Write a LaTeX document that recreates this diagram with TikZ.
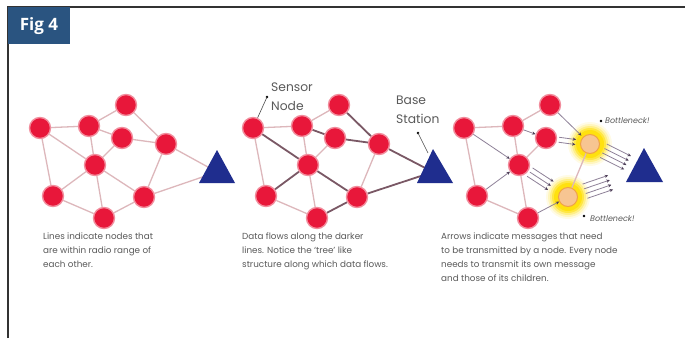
\documentclass[tikz,border=0pt]{standalone}
\usepackage{fontspec}
\setmainfont{Poppins}
\newfontfamily\headfont{Open Sans}
\usetikzlibrary{calc,arrows.meta,backgrounds}

\definecolor{nodered}{HTML}{E8173A}
\definecolor{nodering}{HTML}{F28C9C}
\definecolor{liteedge}{HTML}{DDB7BB}
\definecolor{darkedge}{HTML}{7A5865}
\definecolor{msgline}{HTML}{8E8198}
\definecolor{msghead}{HTML}{4E3F58}
\definecolor{basecol}{HTML}{1F2D8E}
\definecolor{capgray}{HTML}{5A5A5A}
\definecolor{headblue}{HTML}{2A5480}
\definecolor{framegray}{HTML}{333333}
\definecolor{glow}{HTML}{FFE10A}
\definecolor{hotcore}{HTML}{F7C592}
\definecolor{hotring}{HTML}{F0A246}

\tikzset{
  sn/.style={circle, fill=nodered, draw=nodering, line width=1.4pt, minimum size=21pt, inner sep=0pt},
  hot/.style={circle, fill=hotcore, draw=hotring, line width=1pt, minimum size=19pt, inner sep=0pt},
  lite/.style={draw=liteedge, line width=1.3pt},
  treeedge/.style={draw=darkedge, line width=1.8pt},
  msg/.style={draw=msgline, line width=0.8pt, -{Stealth[length=3.4pt,width=3.2pt,color=msghead]}},
  caption/.style={anchor=north west, align=left, text=capgray, inner sep=0pt,
    font=\fontsize{8.8}{14}\selectfont},
  callout/.style={anchor=north west, align=left, text=capgray, inner sep=0pt,
    font=\fontsize{12.3}{18.5}\selectfont},
  bneck/.style={anchor=west, text=capgray, inner sep=0pt, font=\fontsize{8}{9}\selectfont\itshape},
  pointer/.style={draw=black!70, line width=0.6pt},
}

% the nine sensor nodes of one network; #1 = name prefix, #2 = style of the two nodes next to the base
\newcommand\netnodes[2]{%
  \node[sn] (#1A) at (40,128) {};
  \node[sn] (#1B) at (89,126) {};
  \node[sn] (#1C) at (126,105) {};
  \node[sn] (#1D) at (122,138) {};
  \node[#2] (#1E) at (166,144) {};
  \node[sn] (#1F) at (95,165) {};
  \node[sn] (#1G) at (53,196) {};
  \node[#2] (#1H) at (144,197) {};
  \node[sn] (#1I) at (104,218) {};
}
% a bundle of parallel message arrows from #1 towards #2
\newcommand\msgs[5]{%
  \foreach \o in {#3}
    \draw[msg] ($(#1)!#4!(#2)!\o!90:(#2)$) -- ($(#1)!#5!(#2)!\o!90:(#2)$);
}

\begin{document}
\begin{tikzpicture}[x=1pt,y=-1pt]
\useasboundingbox (0,0) rectangle (685,338);
\begin{pgfonlayer}{background}
  \fill[white] (0,0) rectangle (685,338);
\end{pgfonlayer}

% frame and heading tab
\draw[framegray, line width=1.3pt] (8,338) -- (8,7) -- (685,7);
\fill[headblue] (8,7) rectangle (70,44);
\node[text=white, font=\headfont\fontsize{17}{17}\selectfont\bfseries, inner sep=0pt] (figtag) at (39,26) {Fig 4};

% ---- network with all radio links
\begin{scope}
  \netnodes{a}{sn}
  \coordinate (aT) at (217,172);
  \begin{pgfonlayer}{background}
    \foreach \u/\v in {A/B,A/F,A/G,B/C,B/D,B/F,C/E,D/E,D/F,E/H,F/G,F/H,F/I,G/I,H/I,E/T,H/T}
      \draw[lite] (a\u) -- (a\v);
  \end{pgfonlayer}
  \fill[basecol] (217,150) -- (235,183) -- (199,183) -- cycle;
\end{scope}

% ---- routing tree on darker links
\begin{scope}[xshift=213pt]
  \netnodes{b}{sn}
  \coordinate (bT) at (220,172);
  \begin{pgfonlayer}{background}
    \foreach \u/\v in {A/B,A/G,B/C,B/F,D/F,E/H,F/I,G/I}
      \draw[lite] (b\u) -- (b\v);
    \foreach \u/\v in {A/F,G/F,F/H,I/H,H/T,E/T,C/E,D/E,B/D}
      \draw[treeedge] (b\u) -- (b\v);
  \end{pgfonlayer}
  \fill[basecol] (220,149) -- (240,183) -- (204,183) -- cycle;
  \coordinate (bTedge) at (215,153);
  \coordinate (sdot) at (54,97);
  \coordinate (bdot) at (205,133);
  \fill[black] (sdot) circle (1.4pt);
  \fill[black] (bdot) circle (1.4pt);
  \draw[pointer] (sdot) -- (bA);
  \draw[pointer] (bdot) -- (bTedge);
\end{scope}
\node[callout] (sensorlbl) at (271,83) {Sensor\\Node};
\node[callout] (baselbl) at (396,96) {Base\\Station};

% ---- message load with the two bottlenecks
\begin{scope}[xshift=424pt]
  \netnodes{c}{hot}
  \coordinate (cT) at (220,171);
  \begin{pgfonlayer}{background}
    \foreach \n in {cE,cH}
      \foreach \r/\op in {22/0.10,20/0.18,18/0.3,16/0.55,14/0.9}
        \fill[glow, opacity=\op] (\n) circle (\r pt);
    \foreach \u/\v in {A/B,A/G,B/C,B/F,D/F,E/H,F/I,G/I}
      \draw[lite] (c\u) -- (c\v);
  \end{pgfonlayer}
  \fill[basecol] (220,148) -- (239,182) -- (202,182) -- cycle;
  \draw[msg] (cA) -- (cF);
  \draw[msg] (cG) -- (cF);
  \draw[msg] (cB) -- (cD);
  \draw[msg] (cI) -- (cH);
  \draw[msg, shorten >=2pt] (cC) -- (cE);
  \msgs{cD}{cE}{-2.5pt,2.5pt}{13pt}{30pt}
  \msgs{cF}{cH}{-5pt,0pt,5pt}{13pt}{38pt}
  \msgs{cE}{cT}{-7.5pt,-2.5pt,2.5pt,7.5pt}{15pt}{42pt}
  \msgs{cH}{cT}{-7.5pt,-2.5pt,2.5pt,7.5pt}{18pt}{45pt}
\end{scope}
\coordinate (bn1) at (601,121);
\coordinate (bn2) at (584,216);
\fill[black] (bn1) circle (1.4pt);
\fill[black] (bn2) circle (1.4pt);
\node[bneck] (bn1lbl) at (605,121) {Bottleneck!};
\node[bneck] (bn2lbl) at (590,219) {Bottleneck!};

% ---- captions
\node[caption] (cap1) at (43,233) {Lines indicate nodes that\\are within radio range of\\each other.};
\node[caption] (cap2) at (242,233) {Data flows along the darker\\lines. Notice the ‘tree’ like\\structure along which data flows.};
\node[caption] (cap3) at (441,233) {Arrows indicate messages that need\\to be transmitted by a node. Every node\\needs to transmit its own message\\and those of its children.};
\end{tikzpicture}
\end{document}
